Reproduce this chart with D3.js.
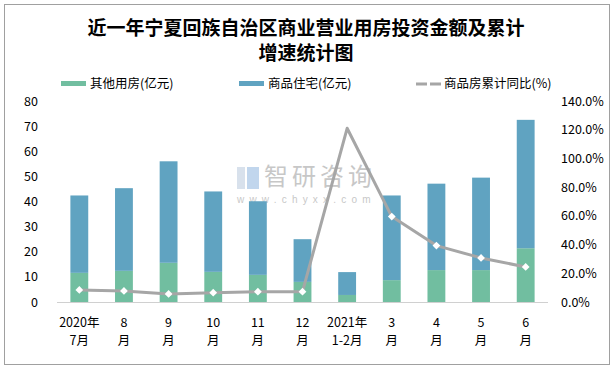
<!DOCTYPE html>
<html>
<head>
<meta charset="utf-8">
<script src="https://cdn.jsdelivr.net/npm/d3@7"></script>
<style>
  body { margin: 0; background: #fff; }
  text { font-family: "Microsoft YaHei", "Noto Sans CJK SC", sans-serif; }
</style>
</head>
<body>
<div id="chart"></div>
<script>
// Data
const months = ["2020年7月", "8月", "9月", "10月", "11月", "12月", "2021年1-2月", "3月", "4月", "5月", "6月"];
const labelTop = ["2020年", "8", "9", "10", "11", "12", "2021年", "3", "4", "5", "6"];
const labelBottom = ["7月", "月", "月", "月", "月", "月", "1-2月", "月", "月", "月", "月"];
const otherUse = [11.6, 12.4, 15.6, 12.0, 10.8, 8.0, 2.8, 8.7, 12.7, 12.7, 21.4];   // 其他用房(亿元)
const housing = [30.8, 32.9, 40.4, 32.0, 29.3, 17.0, 9.1, 33.7, 34.4, 36.8, 51.1];  // 商品住宅(亿元)
const yoy = [8.4, 7.7, 5.6, 6.5, 7.2, 7.2, 121.0, 59.5, 39.3, 30.7, 24.4];          // 商品房累计同比(%)
const leftTicks = [0, 10, 20, 30, 40, 50, 60, 70, 80];
const rightTicks = [0, 20, 40, 60, 80, 100, 120, 140];

const W = 612, H = 370;
const margin = { top: 101, right: 64, bottom: 68, left: 57 },
      width = W - margin.left - margin.right,
      height = H - margin.top - margin.bottom;

const colGreen = "#71bea0", colBlue = "#60a3c1", colLine = "#a6a6a6";

const root = d3.select("#chart").append("svg")
    .attr("width", W)
    .attr("height", H);

// outer border
root.append("rect")
    .attr("x", 4.5).attr("y", 4.5)
    .attr("width", 605).attr("height", 360)
    .attr("fill", "#fff")
    .attr("stroke", "#a0a0a0");

// Title
root.append("text")
    .attr("x", 306).attr("y", 35)
    .attr("text-anchor", "middle")
    .style("font-size", "19px").style("font-weight", "bold")
    .text("近一年宁夏回族自治区商业营业用房投资金额及累计");
root.append("text")
    .attr("x", 306).attr("y", 60)
    .attr("text-anchor", "middle")
    .style("font-size", "19px").style("font-weight", "bold")
    .text("增速统计图");

// Legend
const legend = root.append("g").style("font-size", "12.5px");
legend.append("rect").attr("x", 61).attr("y", 81).attr("width", 25).attr("height", 5).attr("fill", colGreen);
legend.append("text").attr("x", 90).attr("y", 88).text("其他用房(亿元)");
legend.append("rect").attr("x", 239).attr("y", 81).attr("width", 25).attr("height", 5).attr("fill", colBlue);
legend.append("text").attr("x", 268).attr("y", 88).text("商品住宅(亿元)");
legend.append("line").attr("x1", 416).attr("x2", 443).attr("y1", 84).attr("y2", 84)
    .attr("stroke", colLine).attr("stroke-width", 3).attr("stroke-dasharray", "11,3");
legend.append("text").attr("x", 444).attr("y", 88).text("商品房累计同比(%)");

const svg = root.append("g")
    .attr("transform", `translate(${margin.left},${margin.top})`);

// Scales
const x = d3.scaleBand().domain(months).range([0, width]).paddingInner(0.6).paddingOuter(0.3);
const y = d3.scaleLinear().domain([0, 80]).range([height, 0]);
const yR = d3.scaleLinear().domain([0, 140]).range([height, 0]);

// Watermark
const wm = svg.append("g").attr("opacity", 0.55);
wm.append("rect").attr("x", 180).attr("y", 66).attr("width", 8).attr("height", 22).attr("fill", "#b9c9dd");
wm.append("rect").attr("x", 190).attr("y", 66).attr("width", 12).attr("height", 22).attr("fill", "#8fb5e0");
wm.append("text").attr("x", 207).attr("y", 84)
    .style("font-size", "24px").style("fill", "#9a9a9a").style("letter-spacing", "4px")
    .text("智研咨询");
wm.append("text").attr("x", 180).attr("y", 102)
    .style("font-family", "'Liberation Sans', Arial, sans-serif")
    .style("font-size", "10px").style("fill", "#9a9a9a").style("letter-spacing", "5.2px")
    .text("www.chyxx.com");

// Stacked bars
const rows = months.map((m, i) => ({ month: m, other: otherUse[i], housing: housing[i] }));
const stack = d3.stack().keys(["other", "housing"])(rows);
const colors = { other: colGreen, housing: colBlue };

svg.selectAll("g.layer")
    .data(stack)
    .join("g")
    .attr("class", "layer")
    .attr("fill", d => colors[d.key])
    .selectAll("rect")
    .data(d => d)
    .join("rect")
    .attr("x", d => x(d.data.month))
    .attr("y", d => y(d[1]))
    .attr("width", x.bandwidth())
    .attr("height", d => y(d[0]) - y(d[1]));

// Baseline
svg.append("line")
    .attr("x1", 0).attr("x2", width)
    .attr("y1", height + 0.5).attr("y2", height + 0.5)
    .attr("stroke", "#d0d0d0");

// Left axis
const axL = svg.append("g")
    .call(d3.axisLeft(y).tickValues(leftTicks).tickSize(0).tickPadding(19));
axL.select(".domain").remove();
axL.selectAll("text").style("font-size", "12.5px").style("fill", "#000");

// Right axis
const axR = svg.append("g")
    .attr("transform", `translate(${width},0)`)
    .call(d3.axisRight(yR).tickValues(rightTicks).tickSize(0).tickPadding(13)
        .tickFormat(d => d.toFixed(1) + "%"));
axR.select(".domain").remove();
axR.selectAll("text").style("font-size", "12.5px").style("fill", "#000");

// X labels (two lines)
const xl = svg.append("g").style("font-size", "12.5px").attr("text-anchor", "middle");
months.forEach((m, i) => {
    const cx = x(m) + x.bandwidth() / 2;
    xl.append("text").attr("x", cx).attr("y", height + 25).text(labelTop[i]);
    xl.append("text").attr("x", cx).attr("y", height + 43).text(labelBottom[i]);
});

// Line
const pts = months.map((m, i) => ({ month: m, v: yoy[i], i }));
const line = d3.line()
    .x(d => x(d.month) + x.bandwidth() / 2)
    .y(d => yR(d.v));

svg.append("path")
    .datum(pts)
    .attr("fill", "none")
    .attr("stroke", colLine)
    .attr("stroke-width", 3)
    .attr("stroke-linejoin", "round")
    .attr("d", line);

// Diamond markers (none on the peak point)
svg.selectAll("path.marker")
    .data(pts.filter(d => d.i !== 6))
    .join("path")
    .attr("class", "marker")
    .attr("d", d3.symbol().type(d3.symbolSquare).size(30))
    .attr("transform", d => `translate(${x(d.month) + x.bandwidth() / 2},${yR(d.v)}) rotate(45)`)
    .attr("fill", "#fff");
</script>
</body>
</html>
